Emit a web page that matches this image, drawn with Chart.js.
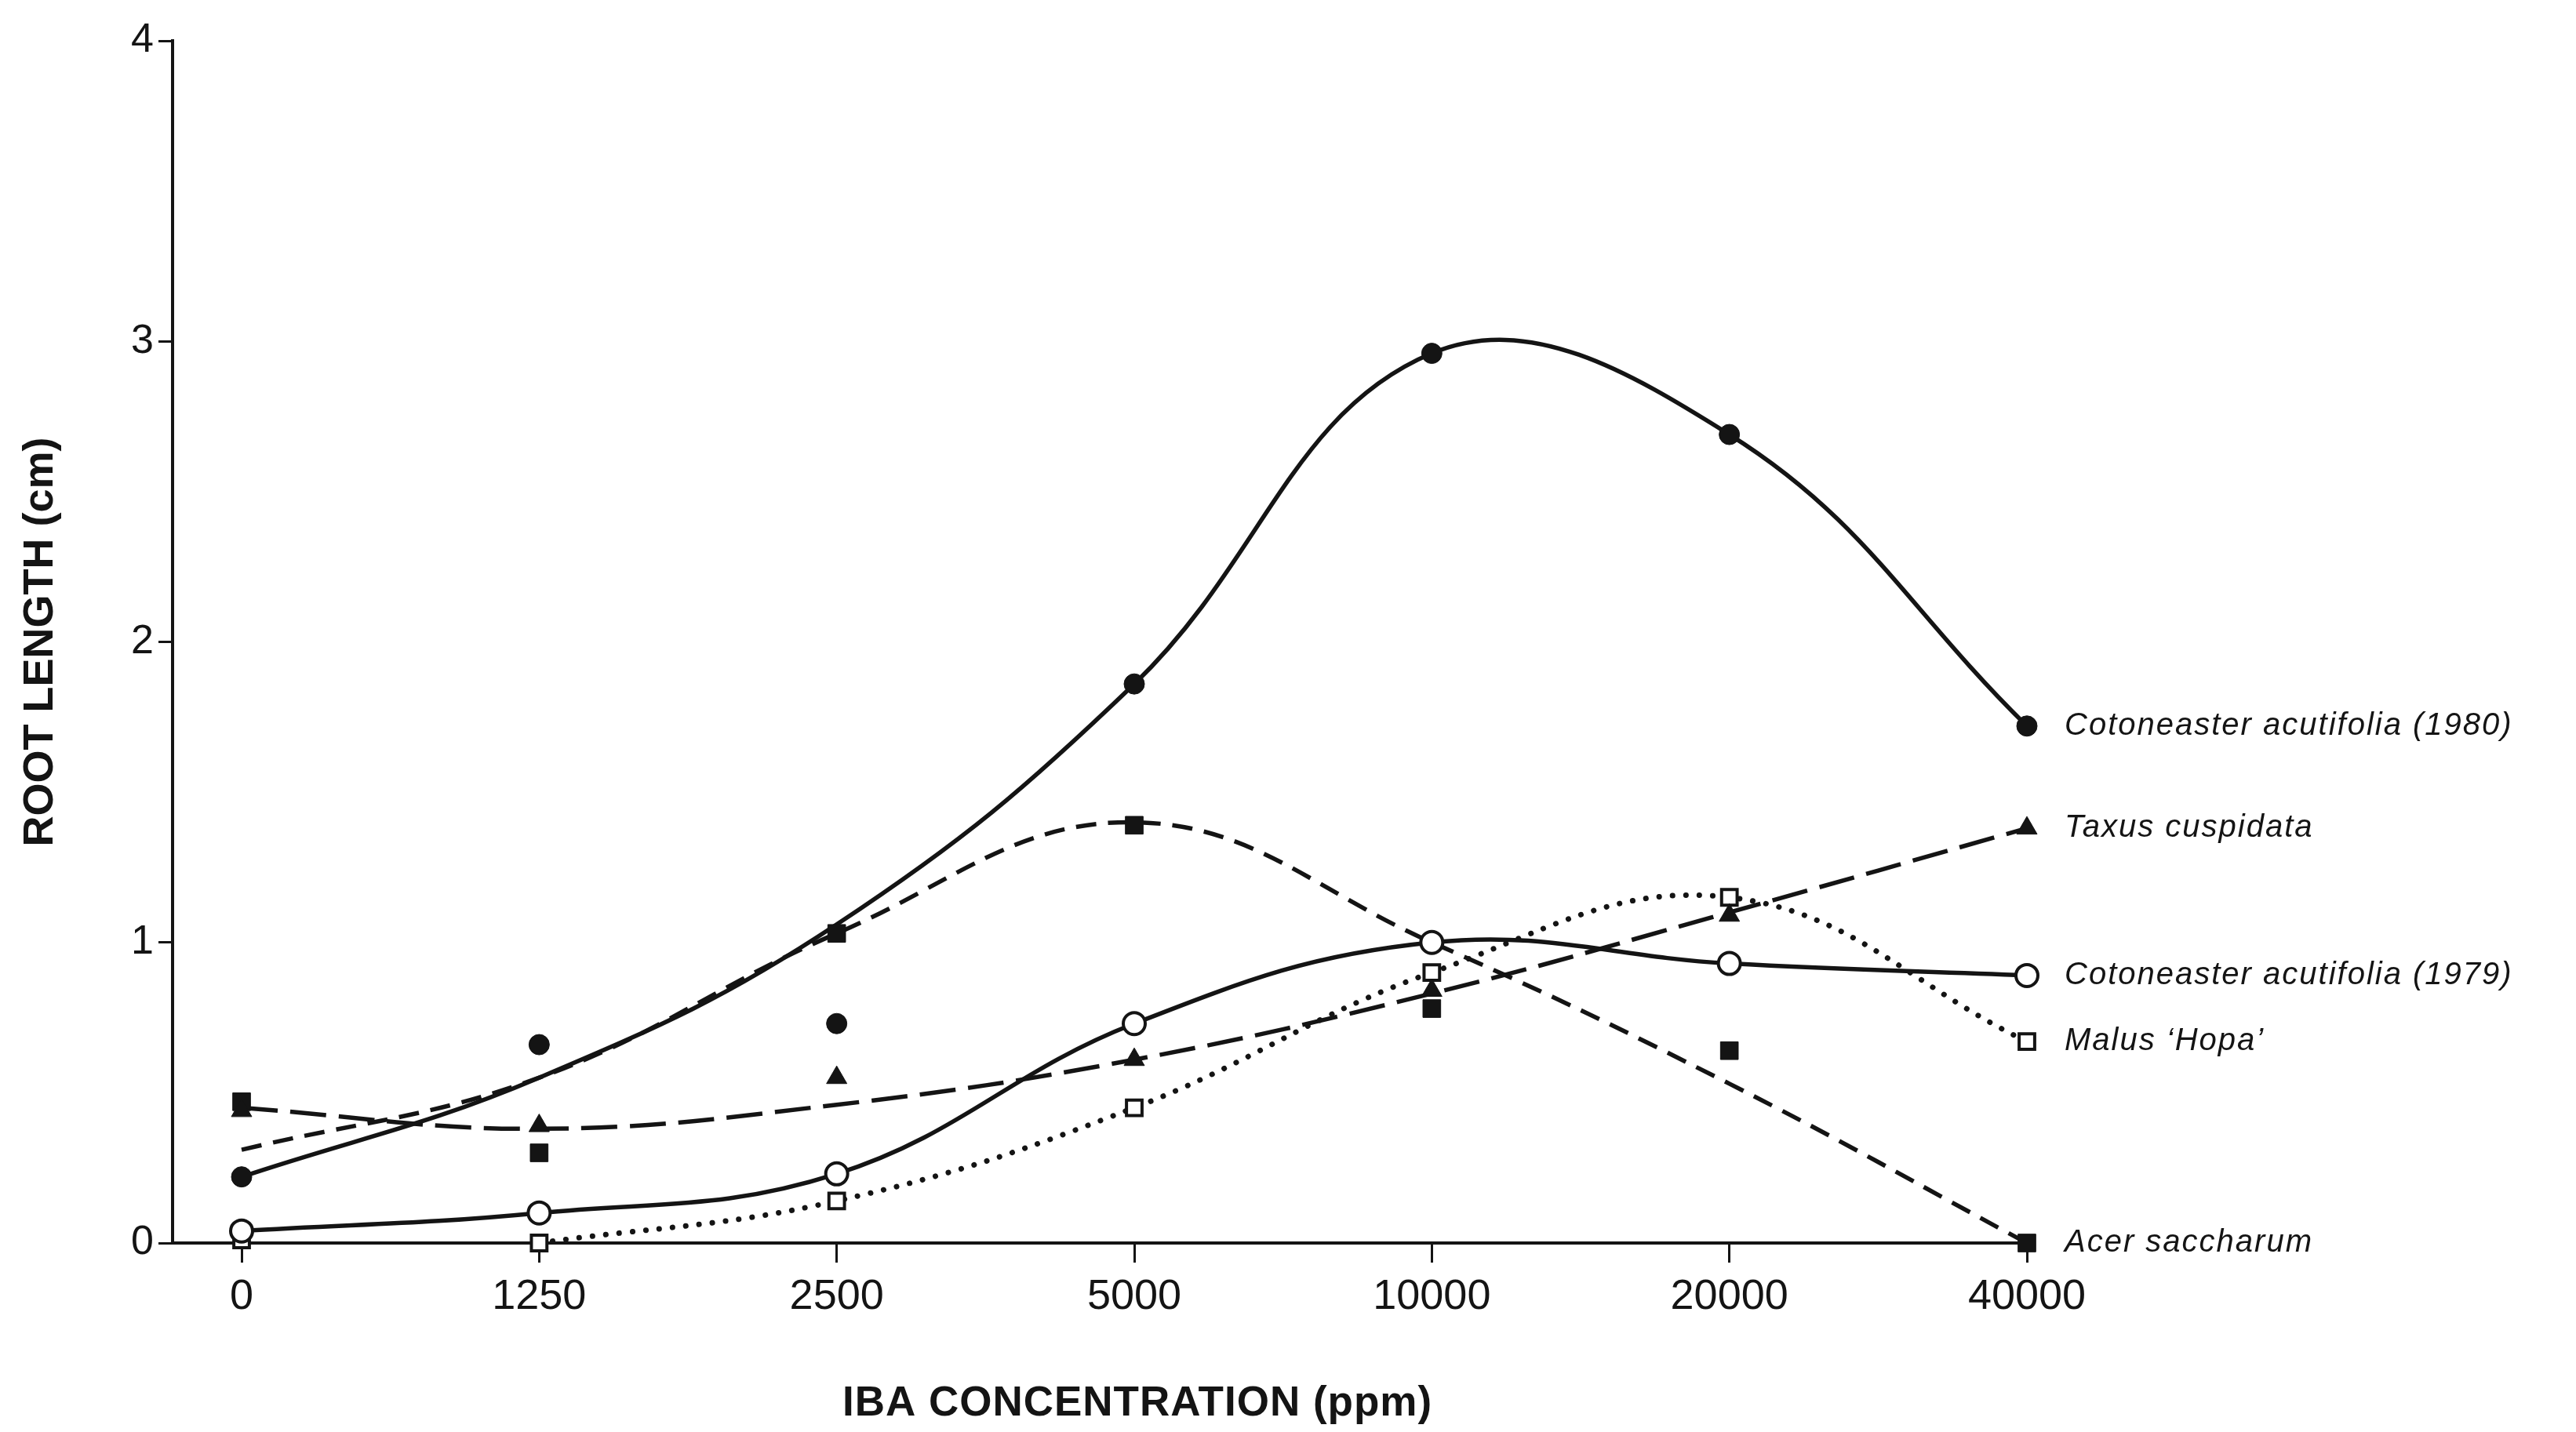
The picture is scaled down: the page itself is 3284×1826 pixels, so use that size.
<!DOCTYPE html>
<html>
<head>
<meta charset="utf-8">
<script src="https://cdn.jsdelivr.net/npm/chart.js@4.4.1/dist/chart.umd.min.js"></script>
<style>
  html, body { margin: 0; padding: 0; background: #fff; }
  canvas { display: block; }
</style>
</head>
<body>
<canvas id="chart" width="3284" height="1826"></canvas>
<script>
// x categories (IBA ppm), drawn equally spaced
const concentrations = ["0", "1250", "2500", "5000", "10000", "20000", "40000"];

const speciesNames = [
  "Cotoneaster acutifolia (1980)",
  "Taxus cuspidata",
  "Cotoneaster acutifolia (1979)",
  "Malus \u2018Hopa\u2019",
  "Acer saccharum",
];

// measured means (the markers)
const coto1980Pts = [0.22, 0.66, 0.73, 1.86, 2.96, 2.69, 1.72];
const taxusPts    = [0.44, 0.39, 0.55, 0.61, 0.84, 1.09, 1.38];
const coto1979Pts = [0.04, 0.10, 0.23, 0.73, 1.00, 0.93, 0.89];
const malusPts    = [0.01, 0.00, 0.14, 0.45, 0.90, 1.15, 0.67];
const acerPts     = [0.47, 0.30, 1.03, 1.39, 0.78, 0.64, 0.00];

// fitted curves as drawn in the figure (value of the curve at each concentration)
const coto1980Curve = [0.22, 0.55, 1.06, 1.86, 2.96, 2.69, 1.72];
const taxusCurve    = [0.45, 0.38, 0.46, 0.61, 0.83, 1.10, 1.38];
const coto1979Curve = [0.04, 0.10, 0.23, 0.73, 1.00, 0.93, 0.89];
const malusCurve    = [null, 0.00, 0.14, 0.45, 0.90, 1.15, 0.67];
const acerCurve     = [0.31, 0.55, 1.03, 1.40, 1.00, 0.53, 0.00];

const FONT = "'Liberation Sans', Arial, Helvetica, sans-serif";
const INK = "#141414";

function toPts(arr) {
  return arr.map((v, i) => ({ x: i, y: v }));
}

function curve(arr, dash, width) {
  return {
    data: toPts(arr),
    borderColor: INK,
    borderWidth: width || 5.5,
    borderDash: dash || [],
    borderCapStyle: dash && dash[0] < 2 ? "round" : "butt",
    tension: 0.4,
    pointRadius: 0,
    fill: false,
    order: 2,
  };
}

function markers(arr, style, filled, radius, label) {
  return {
    label: label,
    data: toPts(arr),
    showLine: false,
    pointStyle: style,
    pointRadius: radius,
    pointBackgroundColor: filled ? INK : "#fff",
    pointBorderColor: INK,
    pointBorderWidth: filled ? 1 : 4,
    clip: false,
    order: 1,
  };
}

// species labels at the end of each series + x axis title
const annotate = {
  id: "annotate",
  afterDraw(chart) {
    const { ctx, scales } = chart;
    const lasts = [coto1980Pts, taxusPts, coto1979Pts, malusPts, acerPts].map(a => a[a.length - 1]);
    ctx.save();
    ctx.fillStyle = INK;
    ctx.font = "italic 40px " + FONT;
    ctx.letterSpacing = "2px";
    ctx.textBaseline = "middle";
    ctx.textAlign = "left";
    const x = scales.x.getPixelForValue(concentrations.length - 1) + 48;
    speciesNames.forEach((name, i) => {
      ctx.fillText(name, x, scales.y.getPixelForValue(lasts[i]));
    });
    ctx.letterSpacing = "1px";
    ctx.font = "bold 53px " + FONT;
    ctx.textAlign = "center";
    ctx.fillText("IBA CONCENTRATION (ppm)", scales.x.getPixelForValue(3) + 4, 1790);
    ctx.restore();
  },
};

new Chart(document.getElementById("chart"), {
  type: "line",
  data: {
    datasets: [
      markers(coto1980Pts, "circle", true, 13, speciesNames[0]),
      markers(taxusPts, "triangle", true, 15, speciesNames[1]),
      markers(coto1979Pts, "circle", false, 14, speciesNames[2]),
      markers(malusPts, "rect", false, 14, speciesNames[3]),
      markers(acerPts, "rect", true, 16, speciesNames[4]),
      curve(coto1980Curve),
      curve(taxusCurve, [46, 16]),
      curve(coto1979Curve),
      curve(malusCurve, [0.1, 17], 7),
      curve(acerCurve, [26, 15]),
    ],
  },
  options: {
    responsive: false,
    animation: false,
    devicePixelRatio: 1,
    layout: { padding: { top: 52, right: 700, left: 0, bottom: 0 } },
    plugins: { legend: { display: false }, tooltip: { enabled: false } },
    scales: {
      x: {
        type: "linear",
        min: -0.232,
        max: concentrations.length - 1,
        afterBuildTicks: (s) => { s.ticks = concentrations.map((c, i) => ({ value: i })); },
        afterFit: (s) => { s.height = 241; },
        border: { display: true, color: INK, width: 4 },
        grid: { display: true, drawOnChartArea: false, drawTicks: true, tickLength: 25, color: INK, lineWidth: 3 },
        ticks: {
          color: INK,
          padding: 12,
          maxRotation: 0,
          autoSkip: false,
          font: { family: FONT, size: 54 },
          callback: (v) => concentrations[Math.round(v)],
        },
      },
      y: {
        min: 0,
        max: 4,
        afterFit: (s) => { s.width = 220; },
        border: { display: true, color: INK, width: 4 },
        grid: { display: true, drawOnChartArea: false, drawTicks: true, tickLength: 18, color: INK, lineWidth: 3 },
        ticks: {
          stepSize: 1,
          color: INK,
          padding: 6,
          font: { family: FONT, size: 52 },
        },
        title: {
          display: true,
          text: "ROOT LENGTH (cm)",
          color: INK,
          font: { family: FONT, size: 54, weight: "bold" },
          padding: { top: 20, bottom: 0 },
        },
      },
    },
  },
  plugins: [annotate],
});
</script>
</body>
</html>
